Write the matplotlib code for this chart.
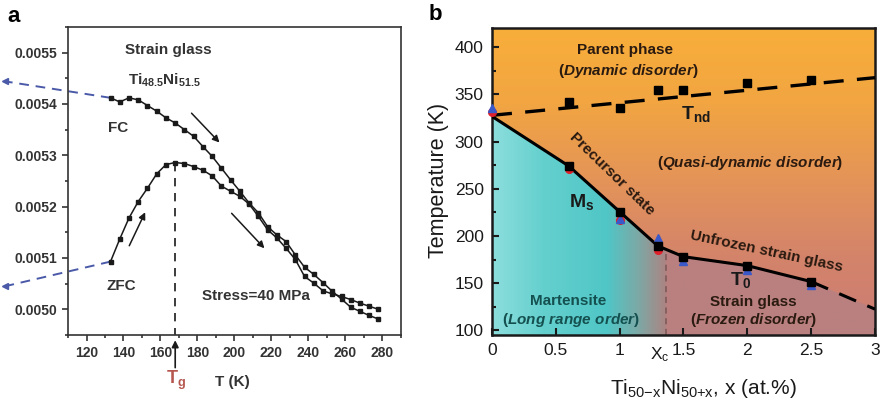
import matplotlib.pyplot as plt
import numpy as np
from matplotlib.ticker import MultipleLocator, StrMethodFormatter

plt.rcParams.update(
    {
        "font.family": "Liberation Sans",
        "mathtext.fontset": "custom",
        "mathtext.rm": "Liberation Sans",
        "mathtext.it": "Liberation Sans:italic:bold",
        "mathtext.bf": "Liberation Sans:bold",
    }
)

# ---------------- panel a: strain vs temperature (FC / ZFC)
temp_k = [133, 138, 143, 148, 153, 158, 163, 168, 173, 178, 183, 188, 193, 198, 203,
          208, 213, 218, 223, 228, 233, 238, 243, 248, 253, 258, 263, 268, 273, 278]
fc_strain = [0.005412, 0.005404, 0.005412, 0.005408, 0.005397, 0.005386, 0.005373,
             0.005363, 0.005350, 0.005337, 0.005317, 0.005298, 0.005275, 0.005252,
             0.005230, 0.005207, 0.005188, 0.005161, 0.005145, 0.005132, 0.005106,
             0.005082, 0.005068, 0.005052, 0.005035, 0.005020, 0.005004, 0.004996,
             0.004988, 0.004981]
zfc_strain = [0.005093, 0.005137, 0.005178, 0.005210, 0.005236, 0.005264, 0.005282,
              0.005286, 0.005284, 0.005278, 0.005271, 0.005260, 0.005240, 0.005230,
              0.005220, 0.005205, 0.005181, 0.005155, 0.005139, 0.005119, 0.005097,
              0.005064, 0.005051, 0.005036, 0.005030, 0.005025, 0.005019, 0.005012,
              0.005006, 0.005000]
fc_extrap_t = [133, 76]
fc_extrap_v = [0.005412, 0.005444]
zfc_extrap_t = [133, 76]
zfc_extrap_v = [0.005093, 0.005045]
t_g = 168
t_g_strain = 0.005286

# ---------------- panel b: phase diagram
ms_x = [0, 0.6, 1.0, 1.3, 1.5, 2.0, 2.5]
ms_t = [326.7, 274.2, 225.6, 189.3, 178.0, 168.5, 151.6]
ms_ext_x = [2.5, 3.0]
ms_ext_t = [151.6, 122.4]
tnd_x = [0.6, 1.0, 1.3, 1.5, 2.0, 2.5]
tnd_t = [341.9, 336.0, 354.2, 355.0, 362.4, 364.8]
tnd_fit_x = [0, 3]
tnd_fit_t = [327.8, 367.7]
red_x = [0, 0.6, 1.0, 1.3]
red_t = [331.6, 271.0, 217.0, 185.0]
blue_x = [0, 1.0, 1.3, 1.5, 2.0, 2.5]
blue_t = [336.0, 217.5, 197.6, 173.3, 163.5, 147.5]
x_c = 1.363

fig = plt.figure(figsize=(8.8, 4.04), dpi=100)

# ======================= panel a
ax = fig.add_axes([0.0773, 0.1708, 0.378, 0.7624])
ax.plot(temp_k, fc_strain, color="#1a1a1a", lw=1.1, marker="s", ms=3.4, zorder=3)
ax.plot(temp_k, zfc_strain, color="#1a1a1a", lw=1.1, marker="s", ms=3.4, zorder=3)
for tx, vy in ((fc_extrap_t, fc_extrap_v), (zfc_extrap_t, zfc_extrap_v)):
    ax.plot(tx, vy, color="#4a5aa8", lw=1.4, ls=(0, (5, 3.5)), clip_on=False)
    ax.plot(tx[-1], vy[-1], color="#4a5aa8", marker="<", ms=4, clip_on=False)
ax.plot([t_g, t_g], [t_g_strain, 0.00495], color="#1a1a1a", lw=1.2, ls=(0, (5, 4)))

arrow_kw = dict(arrowstyle="-|>", color="#1a1a1a", lw=1.1, mutation_scale=10)
ax.annotate("", xy=(193, 0.005321), xytext=(175.8, 0.005386), arrowprops=arrow_kw)
ax.annotate("", xy=(217.3, 0.005115), xytext=(197.5, 0.005191), arrowprops=arrow_kw)
ax.annotate("", xy=(152.4, 0.005194), xytext=(142.5, 0.005119), arrowprops=arrow_kw)
ax.annotate("", xy=(t_g, -0.008), xycoords=("data", "axes fraction"),
            xytext=(t_g, -0.115), textcoords=("data", "axes fraction"),
            arrowprops=dict(arrowstyle="-|>", color="#1a1a1a", lw=1.2, mutation_scale=10),
            annotation_clip=False)

txt = dict(color="#333333", fontweight="bold", ha="center", va="center", fontsize=11)
ax.text(164, 0.005506, "Strain glass", **txt)
ax.text(162.4, 0.005447, r"Ti$_{\mathregular{48.5}}$Ni$_{\mathregular{51.5}}$", **txt)
ax.text(136.9, 0.005354, "FC", **txt)
ax.text(138.9, 0.005045, "ZFC", **txt)
ax.text(211.5, 0.005025, "Stress=40 MPa", **txt)
ax.text(t_g + 0.6, -0.146, r"T$_{\mathregular{g}}$", transform=ax.get_xaxis_transform(),
        color="#b5564f", fontsize=13, ha="center", va="center", fontweight="bold")
ax.text(199, -0.152, "T (K)", transform=ax.get_xaxis_transform(), color="#333333",
        fontsize=11, fontweight="bold", ha="center", va="center")

ax.set_xlim(110, 290)
ax.set_ylim(0.00495, 0.00555)
ax.xaxis.set_minor_locator(MultipleLocator(10))
ax.set_xticks(range(120, 281, 20))
ax.yaxis.set_major_locator(MultipleLocator(0.0001))
ax.yaxis.set_minor_locator(MultipleLocator(0.00005))
ax.yaxis.set_major_formatter(StrMethodFormatter("{x:.4f}"))
ax.tick_params(which="both", direction="out", width=1.2, colors="#333333",
               labelsize=10, top=False, right=False)
ax.tick_params(which="major", length=4.5)
ax.tick_params(which="minor", length=2.5)
for lbl in ax.get_xticklabels() + ax.get_yticklabels():
    lbl.set_fontweight("bold")
for sp in ax.spines.values():
    sp.set_linewidth(1.2)
    sp.set_color("#333333")

fig.text(14 / 880, 1 - 16 / 404, "a", fontsize=16, fontweight="bold", ha="center", va="center")

# ======================= panel b
bx = fig.add_axes([0.5591, 0.1708, 0.4352, 0.7591])
xlo, xhi, ylo, yhi = 0, 3, 95, 420

# background colours follow the phase boundaries
gx = np.linspace(xlo, xhi, 600)
gy = np.linspace(ylo, yhi, 400)
GX, GY = np.meshgrid(gx, gy)
bound_t = np.interp(gx, ms_x + ms_ext_x[1:], ms_t + ms_ext_t[1:])
below = GY < bound_t[None, :]

v_stops = [95, 180, 260, 340, 420]
v_cols = np.array([(203, 124, 116), (212, 132, 106), (228, 148, 88),
                   (242, 165, 66), (248, 174, 58)]) / 255
img = np.stack([np.interp(GY, v_stops, v_cols[:, k]) for k in range(3)], axis=-1)

m_stops = [0, 0.4, 0.9, 1.15, x_c]
m_cols = np.array([(140, 222, 220), (100, 208, 206), (80, 198, 198),
                   (125, 168, 165), (172, 132, 130)]) / 255
mart = np.stack([np.interp(GX, m_stops, m_cols[:, k]) for k in range(3)], axis=-1)
mask_m = below & (GX < x_c)
img[mask_m] = mart[mask_m]
img[below & (GX >= x_c)] = np.array([186, 128, 128]) / 255
bx.imshow(img, extent=[xlo, xhi, ylo, yhi], origin="lower", aspect="auto",
          interpolation="bilinear", zorder=0)

bx.plot([x_c, x_c], [ylo, np.interp(x_c, ms_x, ms_t)], color="#7a5656", lw=1.1,
        ls=(0, (4, 3)), zorder=2)
bx.plot(tnd_fit_x, tnd_fit_t, color="black", lw=2.4, ls=(0, (6, 4)), zorder=3)
bx.plot(tnd_x, tnd_t, "s", color="black", ms=6, zorder=4)
bx.plot(ms_x, ms_t, color="black", lw=2.2, zorder=3)
bx.plot(ms_ext_x, ms_ext_t, color="black", lw=2.2, ls=(0, (6, 4)), zorder=3)
bx.plot(red_x, red_t, "o", color="#e0202a", ms=5.5, zorder=4, clip_on=False)
bx.plot(blue_x, blue_t, "^", color="#3a58c8", ms=6, zorder=4, clip_on=False)
bx.plot(ms_x[1:], ms_t[1:], "s", color="black", ms=6, zorder=5)

tb = dict(ha="center", va="center", fontsize=11, fontweight="bold", color="#2a1a10")
bx.text(1.04, 397, "Parent phase", **tb)
bx.text(1.07, 374.3, r"($\mathit{Dynamic\ disorder}$)", **tb)
bx.text(1.60, 329.6, r"T$_{\mathregular{nd}}$", ha="center", va="center", fontsize=14,
        fontweight="bold", color="#1a1a1a")
bx.text(2.02, 277.8, r"($\mathit{Quasi}$-$\mathit{dynamic\ disorder}$)", **tb)
bx.text(0.94, 266, "Precursor state", rotation=-44, rotation_mode="anchor", **tb)
bx.text(0.70, 236, r"M$_{\mathregular{s}}$", ha="center", va="center", fontsize=14,
        fontweight="bold", color="#1a1a1a")
bx.text(2.15, 184, "Unfrozen strain glass", rotation=-12, rotation_mode="anchor", **tb)
bx.text(1.945, 153.4, r"T$_{\mathregular{0}}$", ha="center", va="center", fontsize=14,
        fontweight="bold", color="#1a1a1a")
tm = dict(tb, color="#14504f")
bx.text(0.595, 130.5, "Martensite", **tm)
bx.text(0.62, 111, r"($\mathit{Long\ range\ order}$)", **tm)
bx.text(2.05, 129.5, "Strain glass", **tb)
bx.text(2.05, 111, r"($\mathit{Frozen\ disorder}$)", **tb)

bx.set_xlim(xlo, xhi)
bx.set_ylim(ylo, yhi)
bx.set_xticks([0, 0.5, 1, 1.5, 2, 2.5, 3])
bx.set_xticklabels(["0", "0.5", "1", "1.5", "2", "2.5", "3"])
bx.yaxis.set_major_locator(MultipleLocator(50))
bx.yaxis.set_minor_locator(MultipleLocator(25))
bx.tick_params(which="both", direction="in", width=1.5, labelsize=12.5,
               colors="#1a1a1a", pad=6)
bx.tick_params(which="major", length=5)
bx.tick_params(which="minor", length=3)
bx.text(1.315, -0.065, r"X$_{\mathregular{c}}$", transform=bx.get_xaxis_transform(),
        fontsize=12.5, ha="center", va="center", color="#1a1a1a")
for sp in bx.spines.values():
    sp.set_linewidth(1.8)
    sp.set_color("#1a1a1a")

fig.text(703 / 880, 1 - 388 / 404,
         r"Ti$_{\mathregular{50{-}x}}$Ni$_{\mathregular{50{+}x}}$, x (at.%)",
         fontsize=15, ha="center", va="center", color="#1a1a1a")
fig.text(438 / 880, 1 - 180 / 404, "Temperature (K)", rotation=90, fontsize=15.5,
         ha="center", va="center", color="#1a1a1a")
fig.text(435 / 880, 1 - 15 / 404, "b", fontsize=16, fontweight="bold", ha="center", va="center")

fig.savefig("out.png", dpi=100)
